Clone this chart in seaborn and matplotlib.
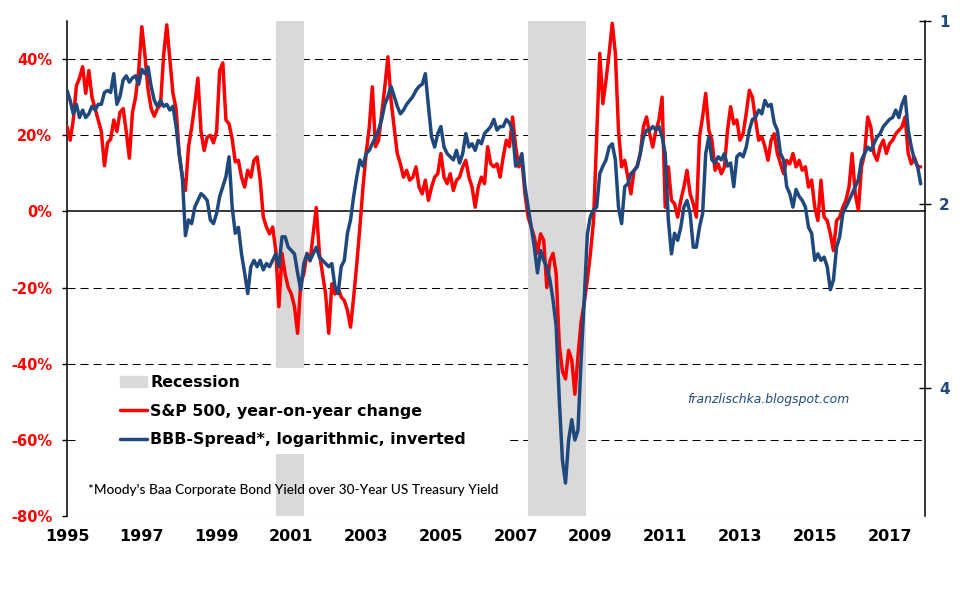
import numpy as np
import pandas as pd
import matplotlib

matplotlib.use("Agg")
import matplotlib.pyplot as plt
import matplotlib.patches as mpatches
from matplotlib.lines import Line2D
import seaborn as sns

# Monthly readings, first value = Jan 1995
start_year = 1995

# S&P 500, year-on-year change (%)
sp500_yoy = [
    22.2, 18.7, 24, 33, 35, 38, 31, 37, 30, 27,
    24, 21, 12, 18, 19, 24, 21, 26, 27, 21,
    14, 26, 30, 37, 48.5, 41, 32, 27, 25, 27,
    28, 41, 49, 40, 31, 27, 15, 9, 5.5, 17,
    22, 28, 35, 21, 16, 19.5, 20, 18, 21, 37,
    39, 24, 23, 19, 13, 13.4, 9, 6.4, 10.8, 9,
    13.4, 14.3, 8.2, -1.5, -4.1, -5.9, -4.1, -10.3, -25, -11,
    -16.4, -20, -21.7, -25, -32, -19, -16.4, -11, -13, -6,
    1, -11, -16.4, -21.7, -32, -19, -21.7, -20, -22.5, -23.4,
    -26, -30.4, -22.5, -13.8, -4.1, 6.4, 15.2, 22, 32.7, 17,
    18.7, 25.7, 32.7, 40.6, 29.2, 22, 15.2, 12.5, 9, 10.8,
    8.2, 9, 11.7, 6.4, 4.6, 8.2, 2.9, 6.4, 9, 9.9,
    15.2, 9, 7.3, 9.9, 5.5, 8.2, 9, 11.7, 13.4, 9,
    6.4, 1.1, 6.4, 9, 7.3, 17, 12.5, 11.7, 12.5, 9,
    14.3, 18.7, 17, 24.8, 17, 11.7, 13.4, 4.6, -1.5, -4.1,
    -6.8, -11, -5.9, -7.6, -20, -13, -11, -16.4, -35, -42,
    -44, -36.5, -39, -48, -38, -29, -24, -18, -11, -2.4,
    19.6, 41.5, 28.3, 34.5, 41.5, 49.4, 41.5, 21.3, 11.7, 13.4,
    9, 4.6, 10.8, 11.7, 15.2, 22.2, 24.8, 20.4, 16.9, 21.3,
    24, 30, 1.1, 11.7, 2.9, 2, -1.5, 2.9, 6.4, 10.8,
    4.6, 2, -1.5, 19.6, 24.8, 31, 21.3, 18.7, 10.8, 12.5,
    9.9, 11.7, 21.3, 27.5, 23, 24, 18.7, 20.4, 25.7, 31.8,
    30, 24, 18.7, 19.6, 17, 13.4, 18.7, 20.4, 15.2, 12.5,
    9.9, 13.4, 12.5, 15.2, 11.7, 13.4, 10.8, 11.7, 6.4, 8.2,
    1.1, -2.4, 8.2, -1.5, -2.4, -5.9, -10.3, -2.4, -1.5, 1.1,
    2.9, 6.4, 15.2, 4.6, 0.3, 11.7, 15.2, 24.8, 22.2, 15.2,
    13.4, 17, 18.7, 15.2, 17.8, 18.7, 20.4, 21.3, 22.2, 24.8,
    15.2, 12.5, 14.2, 11.7, 11.7,
]

# BBB spread (Moody's Baa minus 30y Treasury), percentage points
bbb_spread = [
    1.30, 1.35, 1.42, 1.37, 1.44, 1.40, 1.44, 1.42, 1.38, 1.40,
    1.37, 1.37, 1.31, 1.30, 1.31, 1.22, 1.37, 1.33, 1.25, 1.23,
    1.26, 1.24, 1.23, 1.27, 1.20, 1.22, 1.19, 1.28, 1.35, 1.38,
    1.35, 1.38, 1.37, 1.40, 1.38, 1.49, 1.65, 1.80, 2.25, 2.12,
    2.15, 2.02, 1.97, 1.92, 1.94, 1.97, 2.12, 2.15, 2.07, 1.94,
    1.87, 1.80, 1.67, 2.02, 2.23, 2.18, 2.41, 2.59, 2.80, 2.53,
    2.47, 2.53, 2.47, 2.56, 2.50, 2.53, 2.47, 2.41, 2.53, 2.26,
    2.26, 2.35, 2.38, 2.41, 2.59, 2.76, 2.50, 2.41, 2.47, 2.41,
    2.35, 2.44, 2.47, 2.50, 2.53, 2.50, 2.73, 2.80, 2.53, 2.47,
    2.23, 2.12, 1.94, 1.80, 1.69, 1.73, 1.65, 1.63, 1.59, 1.55,
    1.51, 1.45, 1.37, 1.33, 1.28, 1.33, 1.38, 1.42, 1.40, 1.37,
    1.35, 1.33, 1.30, 1.28, 1.27, 1.22, 1.38, 1.55, 1.61, 1.53,
    1.49, 1.61, 1.65, 1.67, 1.69, 1.63, 1.71, 1.65, 1.53, 1.61,
    1.59, 1.63, 1.57, 1.59, 1.53, 1.51, 1.49, 1.45, 1.51, 1.49,
    1.49, 1.45, 1.47, 1.51, 1.73, 1.71, 1.65, 1.87, 2.02, 2.18,
    2.35, 2.59, 2.38, 2.47, 2.53, 2.66, 2.87, 3.17, 4.18, 5.25,
    5.73, 4.87, 4.51, 4.87, 4.69, 3.60, 2.87, 2.24, 2.09, 2.04,
    2.02, 1.78, 1.73, 1.69, 1.61, 1.59, 1.69, 2.02, 2.15, 1.87,
    1.85, 1.78, 1.76, 1.73, 1.65, 1.55, 1.51, 1.51, 1.49, 1.51,
    1.49, 1.55, 1.65, 2.12, 2.41, 2.23, 2.29, 2.18, 2.02, 1.97,
    2.07, 2.35, 2.35, 2.18, 2.07, 1.65, 1.55, 1.69, 1.71, 1.67,
    1.69, 1.65, 1.73, 1.71, 1.87, 1.67, 1.65, 1.67, 1.61, 1.51,
    1.45, 1.44, 1.40, 1.42, 1.35, 1.38, 1.37, 1.47, 1.51, 1.65,
    1.69, 1.87, 1.92, 2.02, 1.89, 1.94, 1.97, 2.02, 2.18, 2.23,
    2.47, 2.41, 2.47, 2.44, 2.53, 2.76, 2.66, 2.35, 2.26, 2.07,
    2.02, 1.97, 1.92, 1.87, 1.82, 1.69, 1.65, 1.61, 1.63, 1.59,
    1.55, 1.53, 1.49, 1.47, 1.45, 1.44, 1.40, 1.44, 1.37, 1.33,
    1.51, 1.61, 1.69, 1.73, 1.85,
]

# shaded recession periods as placed on the chart (decimal years)
recessions = [(2000.6, 2001.35), (2007.32, 2008.89)]

year_ticks = [1995, 1997, 1999, 2001, 2003, 2005, 2007, 2009, 2011, 2013, 2015, 2017]
pct_ticks = [-80, -60, -40, -20, 0, 20, 40]
spread_ticks = [1, 2, 4]

RED = "#FF0000"
BLUE = "#1F497D"
GREY = "#D9D9D9"

n = len(sp500_yoy)
df = pd.DataFrame({
    "year": start_year + np.arange(n) / 12.0,
    "sp500": sp500_yoy,
    "bbb": bbb_spread,
})

sns.set_style("white")
plt.rcParams["font.family"] = ["DejaVu Sans"]
plt.rcParams["text.color"] = "black"

fig = plt.figure(figsize=(9.66, 5.89), dpi=100)
fig.patch.set_facecolor("white")
ax = fig.add_axes([0.0694, 0.1239, 0.8882, 0.8404])

# dashed gridlines (under the recession bars)
for v in pct_ticks:
    if v != 0:
        ax.axhline(v, color="black", lw=0.75, ls=(0, (7.7, 4.8)), zorder=0.5)

# recession shading
for a, b in recessions:
    ax.axvspan(a, b, color=GREY, lw=0, zorder=1)

sns.lineplot(data=df, x="year", y="sp500", ax=ax, color=RED, lw=2.5, zorder=3)

ax.set_xlim(1995, 2017.95)
ax.set_ylim(-80, 50)
ax.set_xlabel("")
ax.set_ylabel("")

# x axis sits on the 0% line, ticks only
ax.spines["bottom"].set_position(("data", 0))
ax.spines["top"].set_visible(False)
ax.spines["right"].set_visible(False)
for s in ["left", "bottom"]:
    ax.spines[s].set_color("black")
    ax.spines[s].set_linewidth(1.1)
    ax.spines[s].set_zorder(2.6)
ax.set_xticks(year_ticks)
ax.tick_params(axis="x", labelbottom=False, length=4, width=1, direction="out", color="black")
ax.set_yticks(pct_ticks)
ax.set_yticklabels([f"{v}%" for v in pct_ticks])
ax.tick_params(axis="y", length=3.6, width=1, direction="out", color="black",
               pad=7, labelsize=10.5, labelcolor=RED)
for lab in ax.get_yticklabels():
    lab.set_fontweight("bold")

# year labels at the bottom
sec = ax.secondary_xaxis("bottom")
sec.set_xticks(year_ticks)
sec.set_xticklabels([str(y) for y in year_ticks])
sec.tick_params(length=0, pad=9, labelsize=11.5, labelcolor="black")
sec.spines["bottom"].set_visible(False)
for lab in sec.get_xticklabels():
    lab.set_fontweight("bold")

# right axis: BBB spread, log scale, inverted
ax2 = ax.twinx()
sns.lineplot(data=df, x="year", y="bbb", ax=ax2, color=BLUE, lw=2.5, zorder=3)
ax2.set_yscale("log")
ax2.set_ylim(6.49, 1)
ax2.set_xlim(1995, 2017.95)
ax2.set_xlabel("")
ax2.set_ylabel("")
ax2.set_yticks(spread_ticks)
ax2.set_yticklabels([str(v) for v in spread_ticks])
ax2.yaxis.set_minor_locator(matplotlib.ticker.NullLocator())
ax2.tick_params(axis="y", length=8, width=1, direction="inout", color="black",
                pad=6, labelsize=11, labelcolor=BLUE)
for lab in ax2.get_yticklabels():
    lab.set_fontweight("bold")
for s in ["left", "top", "bottom"]:
    ax2.spines[s].set_visible(False)
ax2.spines["right"].set_color("black")
ax2.spines["right"].set_linewidth(1.1)
ax2.tick_params(axis="x", bottom=False, labelbottom=False)

# white box behind the legend
ax2.add_patch(mpatches.Rectangle((0.0105, 0.125), 0.5035, 0.174, transform=ax2.transAxes,
                                 facecolor="white", edgecolor="none", zorder=4))

handles = [
    mpatches.Patch(color=GREY),
    Line2D([], [], color=RED, lw=2.5),
    Line2D([], [], color=BLUE, lw=2.5),
]
labels = [
    "Recession",
    "S&P 500, year-on-year change",
    "BBB-Spread*, logarithmic, inverted",
]
leg = ax2.legend(handles, labels, loc="upper left", bbox_to_anchor=(0.0618, 0.284),
                 frameon=False, borderpad=0, borderaxespad=0, handlelength=1.7,
                 handletextpad=0.2, labelspacing=0.84,
                 prop={"weight": "bold", "size": 11.4})
for t in leg.get_texts():
    t.set_color("black")
leg.set_zorder(5)

fig.text(0.0911, 0.168, "*Moody's Baa Corporate Bond Yield over 30-Year US Treasury Yield",
         fontsize=9.8, family=["Lato", "DejaVu Sans"], weight="medium", color="black",
         va="center", ha="left")
fig.text(0.795, 0.321, "franzlischka.blogspot.com", fontsize=8.9, style="italic",
         color=BLUE, ha="center", va="center")

fig.savefig("out.png", dpi=100, facecolor="white")
